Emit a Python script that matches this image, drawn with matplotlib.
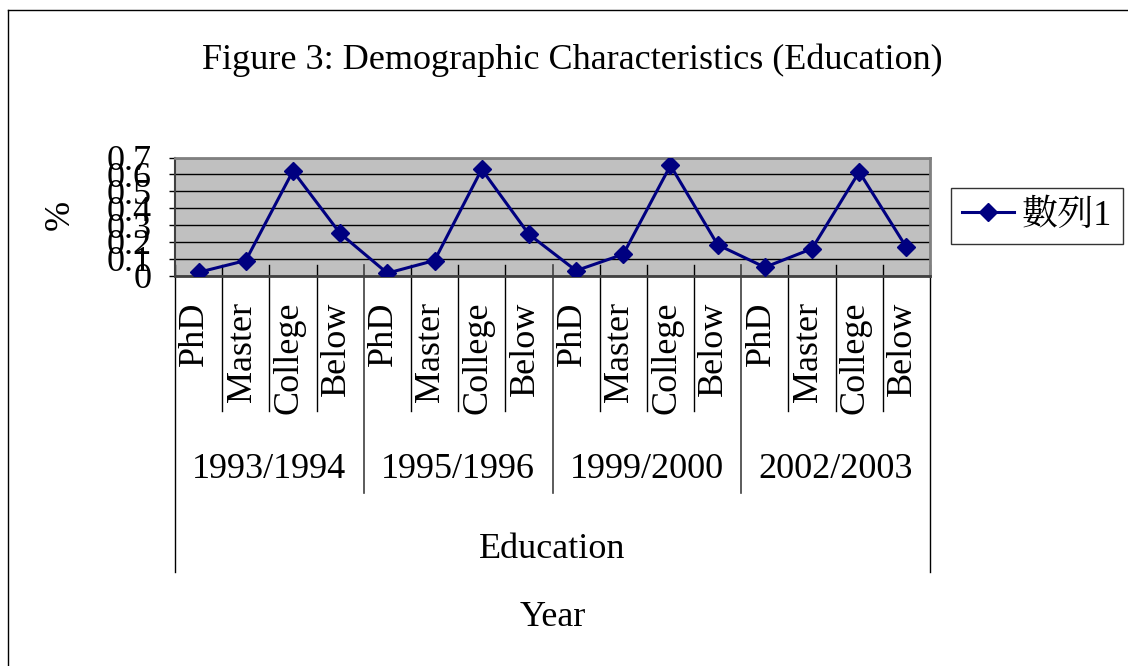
import matplotlib
matplotlib.use("Agg")
import matplotlib.pyplot as plt
import matplotlib.transforms as mtransforms
from matplotlib.lines import Line2D
import numpy as np

years = ["1993/1994", "1995/1996", "1999/2000", "2002/2003"]
levels = ["PhD", "Master", "College", "Below"]
values = [0.02, 0.09, 0.62, 0.25,
          0.015, 0.09, 0.63, 0.245,
          0.03, 0.127, 0.653, 0.183,
          0.05, 0.16, 0.615, 0.168]
yticks = [0, 0.1, 0.2, 0.3, 0.4, 0.5, 0.6, 0.7]
ytick_labels = ["0", "0.1", "0.2", "0.3", "0.4", "0.5", "0.6", "0.7"]
series_name = "數列1"

FONT = ["Liberation Serif", "Noto Serif CJK TC", "Noto Sans CJK TC", "DejaVu Serif"]
plt.rcParams['font.family'] = FONT
FS = 26

W, H = 1128, 666
fig = plt.figure(figsize=(W / 100, H / 100), dpi=100)
ax = fig.add_axes([175 / W, 1 - 275.7 / H, (930 - 175) / W, (275.7 - 157.5) / H])
ax.set_facecolor("#C0C0C0")

n = len(values)
x = np.arange(n)
line, = ax.plot(x, values, color="#000080", lw=2.2, marker="D", ms=9,
                markerfacecolor="#000080", markeredgecolor="#000080", zorder=3)
ax.set_xlim(-0.5, n - 0.5)
ax.set_ylim(0, 0.7)
ax.set_yticks(yticks)
ax.set_yticklabels(ytick_labels, fontsize=FS)
ax.yaxis.grid(True, color="black", lw=1)
ax.set_axisbelow(True)
ax.tick_params(axis="y", direction="out", length=4, pad=13, width=1)
ax.set_xticks([])
for s in ["top", "right"]:
    ax.spines[s].set_color("#808080")
    ax.spines[s].set_linewidth(2)
ax.spines["left"].set_color("#404040")
ax.spines["left"].set_linewidth(1.5)
ax.spines["bottom"].set_color("#404040")
ax.spines["bottom"].set_linewidth(2)

tr = mtransforms.blended_transform_factory(ax.transData, fig.transFigure)

def fy(p):
    return 1 - p / H

# category labels and separators
for i in range(n):
    ax.text(i - 0.08, fy(302), levels[i % 4], rotation=90, ha="center", va="top",
            fontsize=FS, transform=tr, clip_on=False)
for b in range(1, n):
    if b % 4 == 0:
        continue
    ax.add_line(Line2D([b - 0.5, b - 0.5], [fy(265), fy(411)], transform=tr,
                       color="black", lw=1, clip_on=False))
# group labels and separators
for g, yr in enumerate(years):
    ax.text(g * 4 + 1.5, fy(470), yr, ha="center", va="center", fontsize=FS,
            transform=tr, clip_on=False)
for g in range(1, len(years)):
    ax.add_line(Line2D([g * 4 - 0.5, g * 4 - 0.5], [fy(265), fy(493)], transform=tr,
                       color="#404040", lw=1.2, clip_on=False))
for xb in [-0.5, n - 0.5]:
    ax.add_line(Line2D([xb, xb], [fy(265), fy(572)], transform=tr,
                       color="black", lw=1, clip_on=False))
ax.text((n - 1) / 2, fy(550), "Education", ha="center", va="center", fontsize=FS,
        transform=tr, clip_on=False)
ax.text((n - 1) / 2, fy(618), "Year", ha="center", va="center", fontsize=FS,
        transform=tr, clip_on=False)

fig.text(60 / W, fy(215), "%", rotation=90, ha="center", va="center", fontsize=FS)
fig.text(572 / W, fy(60), "Figure 3: Demographic Characteristics (Education)",
         ha="center", va="center", fontsize=FS)

leg = fig.legend([line], [series_name], loc="center left",
                 bbox_to_anchor=(951 / W, fy(216)), frameon=True, fancybox=False,
                 handlelength=1.45, borderpad=0.3, handletextpad=0.2, borderaxespad=0,
                 prop={"family": FONT, "size": FS})
leg.get_frame().set_edgecolor("black")
leg.get_frame().set_linewidth(1)

# figure frame
fig.add_artist(Line2D([8 / W, 8 / W], [0, fy(10)], transform=fig.transFigure,
                      color="black", lw=1))
fig.add_artist(Line2D([8 / W, 1], [fy(10), fy(10)], transform=fig.transFigure,
                      color="black", lw=1))

fig.savefig("out.png", dpi=100)
